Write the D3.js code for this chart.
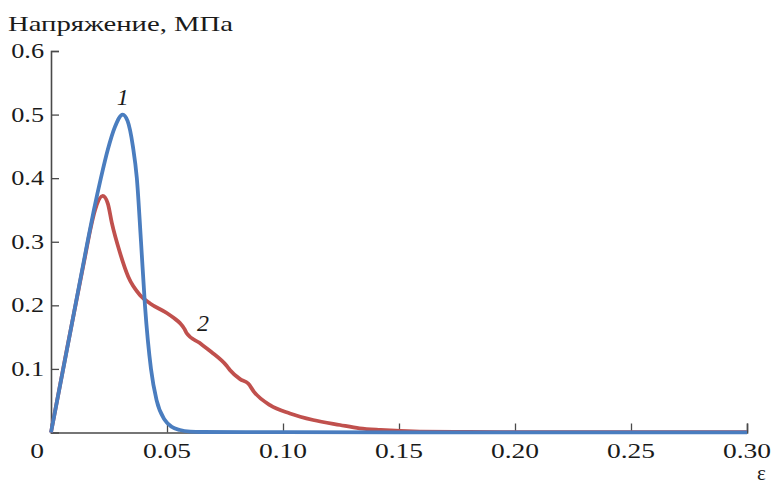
<!DOCTYPE html>
<html>
<head>
<meta charset="utf-8">
<script src="https://cdn.jsdelivr.net/npm/d3@7"></script>
<style>
  body { margin: 0; background: #fff; }
</style>
</head>
<body>
<div id="chart"></div>
<script>
// кривые напряжение-деформация (читаются с картинки)
var strain1 = [0, 0.005, 0.010, 0.0155, 0.0185, 0.0215, 0.0245, 0.0275, 0.0309, 0.033, 0.0353, 0.037, 0.0388, 0.0405, 0.0431, 0.0455, 0.049, 0.052, 0.0556, 0.060, 0.065, 0.10, 0.20, 0.30];
var stress1 = [0, 0.095, 0.19, 0.295, 0.35, 0.40, 0.445, 0.48, 0.50, 0.49, 0.45, 0.40, 0.30, 0.20, 0.10, 0.051, 0.02, 0.009, 0.004, 0.0015, 0.0008, 0.0005, 0.0003, 0.0003];

var strain2 = [0, 0.0068, 0.0147, 0.017, 0.019, 0.0223, 0.0245, 0.0262, 0.0297, 0.0333, 0.0384, 0.0427, 0.0499, 0.053, 0.0556, 0.0575, 0.0585, 0.064, 0.069, 0.0757, 0.0772, 0.0815, 0.085, 0.0875, 0.0944, 0.103, 0.113, 0.1246, 0.133, 0.142, 0.159, 0.18, 0.22, 0.30];
var stress2 = [0, 0.13, 0.277, 0.32, 0.35, 0.372, 0.36, 0.33, 0.283, 0.245, 0.216, 0.203, 0.188, 0.18, 0.172, 0.163, 0.156, 0.141, 0.127, 0.105, 0.098, 0.084, 0.077, 0.064, 0.043, 0.030, 0.0197, 0.0118, 0.0066, 0.004, 0.0015, 0.001, 0.0005, 0.0005];

var xTicks = [0, 0.05, 0.10, 0.15, 0.20, 0.25, 0.30];
var xTickLabels = ["0", "0.05", "0.10", "0.15", "0.20", "0.25", "0.30"];
var yTicks = [0.1, 0.2, 0.3, 0.4, 0.5, 0.6];
var curveLabels = ["1", "2"];

var width = 771, height = 486;
var serif = "'Liberation Serif', 'Times New Roman', serif";
var stretch = 1.25; // подписи в оригинале растянуты по горизонтали

var svg = d3.select("#chart").append("svg")
    .attr("width", width)
    .attr("height", height);

var x = d3.scaleLinear().domain([0, 0.30]).range([51, 747]);
var y = d3.scaleLinear().domain([0, 0.6]).range([432.5, 51]);

var line = d3.line()
    .x(function (d) { return x(d[0]); })
    .y(function (d) { return y(d[1]); })
    .curve(d3.curveMonotoneX);

var axisColor = "#4a4a4a";

function widen(sel, k) {
    sel.each(function () {
        var w = this.getComputedTextLength();
        d3.select(this).attr("textLength", w * k).attr("lengthAdjust", "spacingAndGlyphs");
    });
}

// оси
var xAxis = svg.append("g")
    .attr("transform", "translate(0," + y(0) + ")")
    .call(d3.axisBottom(x).tickValues(xTicks).tickSize(-9).tickFormat(""));
var yAxis = svg.append("g")
    .attr("transform", "translate(" + x(0) + ",0)")
    .call(d3.axisLeft(y).tickValues(yTicks).tickSize(-8).tickFormat(""));
[xAxis, yAxis].forEach(function (g) {
    g.select(".domain").attr("stroke", axisColor).attr("stroke-width", 1.6);
    g.selectAll(".tick line").attr("stroke", axisColor).attr("stroke-width", 1.3);
});
// убираем засечку у нуля по x
xAxis.selectAll(".tick").filter(function (d) { return d === 0; }).remove();

// подписи делений
var xl = svg.selectAll("text.xlab").data(xTicks).enter().append("text")
    .attr("class", "xlab")
    .attr("x", function (d) { return d === 0 ? 37 : x(d); })
    .attr("y", 458)
    .attr("text-anchor", "middle")
    .attr("fill", "#1a1a1a")
    .style("font-family", serif)
    .style("font-size", "22px")
    .text(function (d, i) { return xTickLabels[i]; });
widen(xl, stretch);

var yl = svg.selectAll("text.ylab").data(yTicks).enter().append("text")
    .attr("class", "ylab")
    .attr("x", 44)
    .attr("y", function (d) { return y(d) + 7; })
    .attr("text-anchor", "end")
    .attr("fill", "#1a1a1a")
    .style("font-family", serif)
    .style("font-size", "21px")
    .text(function (d) { return d3.format(".1f")(d); });
widen(yl, stretch);

svg.append("text")
    .attr("x", 8).attr("y", 31)
    .attr("fill", "#1a1a1a")
    .attr("textLength", 225).attr("lengthAdjust", "spacingAndGlyphs")
    .style("font-family", serif)
    .style("font-size", "21px")
    .text("Напряжение, МПа");

svg.append("text")
    .attr("x", 757).attr("y", 480)
    .attr("fill", "#1a1a1a")
    .style("font-family", serif)
    .style("font-size", "21px")
    .text("ε");

// кривые
svg.append("path")
    .datum(d3.zip(strain2, stress2))
    .attr("d", line)
    .attr("fill", "none")
    .attr("stroke", "#c0504d")
    .attr("stroke-width", 3.8)
    .attr("stroke-linejoin", "round");

svg.append("path")
    .datum(d3.zip(strain1, stress1))
    .attr("d", line)
    .attr("fill", "none")
    .attr("stroke", "#4a7dbf")
    .attr("stroke-width", 3.8)
    .attr("stroke-linejoin", "round");

// номера кривых
svg.append("text")
    .attr("x", x(0.0309)).attr("y", y(0.5) - 10)
    .attr("text-anchor", "middle")
    .attr("fill", "#1a1a1a")
    .style("font-family", serif)
    .style("font-size", "24px").style("font-style", "italic")
    .text(curveLabels[0]);
svg.append("text")
    .attr("x", x(0.0655)).attr("y", y(0.158) - 1)
    .attr("text-anchor", "middle")
    .attr("fill", "#1a1a1a")
    .style("font-family", serif)
    .style("font-size", "24px").style("font-style", "italic")
    .text(curveLabels[1]);
</script>
</body>
</html>
